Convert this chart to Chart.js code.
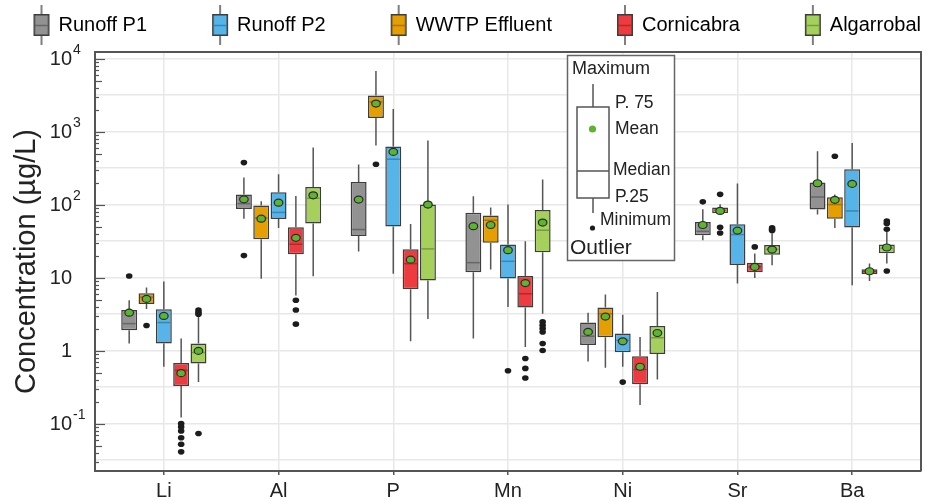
<!DOCTYPE html>
<html>
<head>
<meta charset="utf-8">
<title>Concentration box plots</title>
<script src="https://cdn.jsdelivr.net/npm/chart.js@4.4.1/dist/chart.umd.min.js"></script>
<style>
  body { margin: 0; background: #fff; }
  #chart { display: block; }
</style>
</head>
<body>
<canvas id="chart" width="929" height="501"></canvas>
<script>
const FONT = "'Liberation Sans', Arial, sans-serif";

const elements = ['Li', 'Al', 'P', 'Mn', 'Ni', 'Sr', 'Ba'];

// one row per element: [min, P25, median, P75, max, mean]
const runoffP1 = [
    [1.25, 1.9, 2.34, 3.6, 4.9, 3.3],
    [64, 87, 103, 137, 234, 118],
    [22.7, 37, 45.5, 204, 353, 117],
    [1.46, 11.8, 16, 77, 130, 50.5],
    [0.71, 1.19, 1.57, 2.42, 3.3, 1.8],
    [32.4, 38, 43, 57.8, 86, 52.5],
    [73, 85.5, 127, 200, 537, 196]
];
const runoffP1Outliers = [[10.5], [376, 20], [], [], [], [109], []];

const wwtpEffluent = [
    [3.7, 4.35, 5.4, 6.1, 7.3, 5.1],
    [9.6, 33.5, 65.5, 97, 111, 64],
    [643, 1535, 2542, 3112, 6760, 2420],
    [12.9, 30, 61, 71, 91, 52.5],
    [0.58, 1.52, 3.2, 3.88, 5.85, 2.92],
    [73.6, 76, 83.5, 91, 101, 81.7],
    [47.8, 64, 100, 126, 137, 116]
];
const wwtpEffluentOutliers = [[2.2], [], [357], [], [], [138, 49, 40.8], [459]];

const runoffP2 = [
    [0.6, 1.25, 2.42, 3.68, 8.8, 2.98],
    [47.8, 63.5, 78, 147, 260, 106],
    [11.3, 50, 418, 623, 2040, 526],
    [3.96, 9.7, 16.7, 28.3, 100, 23.7],
    [0.6, 0.95, 1.38, 1.71, 3.1, 1.34],
    [8.3, 14.9, 38.8, 53.7, 194, 44],
    [7.85, 48.4, 81.7, 305, 698, 192]
];
const runoffP2Outliers = [[], [], [], [0.53], [0.37], [], []];

const cornicabra = [
    [0.121, 0.327, 0.537, 0.676, 1.46, 0.49],
    [5.7, 20.9, 28.6, 49, 131, 35],
    [1.34, 6.9, 15.5, 24.4, 54, 17.6],
    [1.12, 3.9, 6, 10.5, 31.4, 8.4],
    [0.18, 0.345, 0.55, 0.835, 1.54, 0.6],
    [9.9, 11.8, 14, 15.9, 21.3, 14],
    [9.0, 11.1, 12.1, 13, 15.6, 12.2]
];
const cornicabraOutliers = [
    [0.1, 0.09, 0.079, 0.064, 0.052, 0.041],
    [4.9, 3.6, 2.3], [], [0.78, 0.57, 0.42], [], [26.3], []
];

const algarrobal = [
    [0.37, 0.664, 0.94, 1.25, 3.0, 0.99],
    [10.4, 55, 122, 174, 604, 134],
    [2.7, 9.1, 24.7, 100, 753, 100],
    [3.2, 22.2, 44.5, 84, 220, 56.7],
    [0.4, 0.9, 1.5, 2.17, 6.35, 1.74],
    [14.7, 20.6, 24.4, 28, 40, 24.2],
    [15.6, 21.5, 25.2, 28.3, 42, 25.8]
];
const algarrobalOutliers = [
    [3.6, 3.35, 3.15, 0.073], [], [], [2.47, 2.22, 2.0, 1.8, 1.25, 1.0],
    [], [48, 46, 44], [59.6, 55, 46, 12.3]
];

const legendOrder = ['Runoff P1', 'Runoff P2', 'WWTP Effluent', 'Cornicabra', 'Algarrobal'];

// tick labels as base^exponent
const yTickValues = [0.1, 1, 10, 100, 1000, 10000];
const yTickLabels = ['10^-1', '1', '10', '10^2', '10^3', '10^4'];
const yGridValues = [0.0316, 0.1, 0.316, 1, 3.16, 10, 31.6, 100, 316, 1000, 3162, 10000];

// plotting order inside each group
const series = [
    { label: 'Runoff P1', stats: runoffP1, outliers: runoffP1Outliers, color: '#929292', medianColor: '#676767' },
    { label: 'WWTP Effluent', stats: wwtpEffluent, outliers: wwtpEffluentOutliers, color: '#e69f00', medianColor: '#a87400' },
    { label: 'Runoff P2', stats: runoffP2, outliers: runoffP2Outliers, color: '#56b4e9', medianColor: '#3a86b3' },
    { label: 'Cornicabra', stats: cornicabra, outliers: cornicabraOutliers, color: '#ee3b3f', medianColor: '#b02a2e' },
    { label: 'Algarrobal', stats: algarrobal, outliers: algarrobalOutliers, color: '#a4d05b', medianColor: '#789c40' }
];

function legendIcon(s) {
    const c = document.createElement('canvas');
    c.width = 18;
    c.height = 40;
    const g = c.getContext('2d');
    g.lineWidth = 1.5;
    g.strokeStyle = '#555';
    g.beginPath();
    g.moveTo(9, 0); g.lineTo(9, 9);
    g.moveTo(9, 31); g.lineTo(9, 40);
    g.stroke();
    g.fillStyle = s.color;
    g.fillRect(1, 9, 16, 22);
    g.strokeStyle = '#3d3d3d';
    g.strokeRect(1.75, 9.75, 14.5, 20.5);
    g.strokeStyle = s.medianColor;
    g.beginPath();
    g.moveTo(2.5, 20.5); g.lineTo(15.5, 20.5);
    g.stroke();
    return c;
}

// legend sits high on one row with wide gaps between items
const legendPlacePlugin = {
    id: 'legendPlace',
    beforeLayout(chart) {
        const lg = chart.legend;
        if (lg && !lg._fitPatched) {
            const fit = lg.fit.bind(lg);
            lg.fit = function () {
                const mw = this.maxWidth;
                this.maxWidth = 1400;
                fit();
                this.maxWidth = mw;
                this.width = mw;
                this.height = 52;
            };
            lg._fitPatched = true;
        }
    },
    afterLayout(chart) {
        const lg = chart.legend;
        const pad = lg.options.labels.padding;
        lg.top = 25 - 10 - pad;
        lg.left = 34 - pad;
        lg.right = lg.left + pad + lg.lineWidths[0] + 1;
        lg.width = lg.right - lg.left;
    }
};

// whiskers, medians, means and outliers on top of the floating bars
const boxPlotPlugin = {
    id: 'boxPlot',
    afterDatasetsDraw(chart) {
        const ctx = chart.ctx;
        const y = chart.scales.y;
        ctx.save();
        series.forEach((s, di) => {
            const meta = chart.getDatasetMeta(di);
            meta.data.forEach((bar, j) => {
                const st = s.stats[j];
                const x = bar.x;
                const half = bar.width / 2;
                ctx.lineWidth = 1.5;
                ctx.strokeStyle = '#555';
                ctx.beginPath();
                ctx.moveTo(x, y.getPixelForValue(st[3]));
                ctx.lineTo(x, y.getPixelForValue(st[4]));
                ctx.moveTo(x, y.getPixelForValue(st[1]));
                ctx.lineTo(x, y.getPixelForValue(st[0]));
                ctx.stroke();

                ctx.strokeStyle = s.medianColor;
                const ym = y.getPixelForValue(st[2]);
                ctx.beginPath();
                ctx.moveTo(x - half + 1.5, ym);
                ctx.lineTo(x + half - 1.5, ym);
                ctx.stroke();

                ctx.fillStyle = '#1c1c1c';
                s.outliers[j].forEach(v => {
                    ctx.beginPath();
                    ctx.ellipse(x, y.getPixelForValue(v), 3.3, 2.8, 0, 0, Math.PI * 2);
                    ctx.fill();
                });

                ctx.beginPath();
                ctx.ellipse(x, y.getPixelForValue(st[5]), 4.3, 3.5, 0, 0, Math.PI * 2);
                ctx.fillStyle = '#5cb531';
                ctx.fill();
                ctx.lineWidth = 1.2;
                ctx.strokeStyle = '#2b2b2b';
                ctx.stroke();
            });
        });
        ctx.restore();
    }
};

// top/right frame, inward minor ticks and the power-of-ten labels
const framePlugin = {
    id: 'frame',
    afterDatasetsDraw(chart) {
        const { ctx, chartArea: a, scales: { y } } = chart;
        ctx.save();
        ctx.strokeStyle = '#555';
        ctx.lineWidth = 2;
        ctx.beginPath();
        ctx.moveTo(a.left, a.top);
        ctx.lineTo(a.right, a.top);
        ctx.lineTo(a.right, a.bottom);
        ctx.stroke();
        ctx.lineWidth = 1.2;
        for (let d = -2; d <= 4; d++) {
            for (let m = 1; m <= 9; m++) {
                const v = m * Math.pow(10, d);
                if (v < y.min || v > y.max) continue;
                const py = Math.round(y.getPixelForValue(v)) + 0.5;
                const len = m === 1 ? 10 : (m === 5 ? 7 : 4);
                ctx.beginPath();
                ctx.moveTo(a.left, py);
                ctx.lineTo(a.left + len, py);
                ctx.stroke();
            }
        }

        ctx.fillStyle = '#222';
        ctx.textBaseline = 'middle';
        const xr = a.left - 23;
        yTickValues.forEach((v, i) => {
            const [base, exp] = yTickLabels[i].split('^');
            const py = y.getPixelForValue(v);
            ctx.font = '20px ' + FONT;
            ctx.textAlign = 'right';
            ctx.fillText(base, xr, py + 1);
            if (exp) {
                ctx.font = '14px ' + FONT;
                ctx.textAlign = 'left';
                ctx.fillText(exp, xr + 1, py - 8);
            }
        });
        ctx.restore();
    }
};

// explanatory key for the box symbols
const keyPlugin = {
    id: 'boxKey',
    afterDraw(chart) {
        const ctx = chart.ctx;
        ctx.save();
        ctx.fillStyle = '#fff';
        ctx.fillRect(567, 55, 108, 206);
        ctx.strokeStyle = '#666';
        ctx.lineWidth = 1.5;
        ctx.strokeRect(567.5, 55.5, 107, 205);

        ctx.strokeStyle = '#555';
        ctx.beginPath();
        ctx.moveTo(593, 84); ctx.lineTo(593, 107);
        ctx.moveTo(593, 198); ctx.lineTo(593, 213);
        ctx.stroke();
        ctx.strokeRect(577, 107, 32, 91);
        ctx.beginPath();
        ctx.moveTo(577, 171); ctx.lineTo(609, 171);
        ctx.stroke();

        ctx.beginPath();
        ctx.arc(592.5, 129, 3.6, 0, Math.PI * 2);
        ctx.fillStyle = '#5cb531';
        ctx.fill();
        ctx.beginPath();
        ctx.arc(592.5, 228, 2.6, 0, Math.PI * 2);
        ctx.fillStyle = '#1c1c1c';
        ctx.fill();

        ctx.fillStyle = '#222';
        ctx.textBaseline = 'middle';
        ctx.textAlign = 'left';
        ctx.font = '18px ' + FONT;
        ctx.fillText('Maximum', 572, 69);
        ctx.font = '17.5px ' + FONT;
        ctx.fillText('P. 75', 615, 103);
        ctx.fillText('Mean', 615, 129);
        ctx.fillText('Median', 613, 170);
        ctx.fillText('P.25', 615, 197);
        ctx.fillText('Minimum', 600, 220);
        ctx.font = '21px ' + FONT;
        ctx.fillText('Outlier', 570, 248);
        ctx.restore();
    }
};

const ctx = document.getElementById('chart').getContext('2d');

new Chart(ctx, {
    type: 'bar',
    data: {
        datasets: series.map(s => ({
            label: s.label,
            data: s.stats.map((st, i) => ({ x: i, y: [st[1], st[3]] })),
            backgroundColor: s.color,
            borderColor: '#3d3d3d',
            borderWidth: 1.5,
            borderSkipped: false,
            categoryPercentage: 0.755,
            barPercentage: 0.92
        }))
    },
    options: {
        responsive: false,
        animation: false,
        devicePixelRatio: 1,
        layout: { padding: { left: 0, right: 8, top: 0, bottom: 0 } },
        plugins: {
            tooltip: { enabled: false },
            legend: {
                position: 'top',
                labels: {
                    usePointStyle: true,
                    boxWidth: 14,
                    padding: 66,
                    color: '#222',
                    font: { size: 20, family: FONT },
                    generateLabels: chart => chart.data.datasets.map((ds, i) => ({
                        text: ds.label,
                        pointStyle: legendIcon(series[i]),
                        datasetIndex: i,
                        hidden: false,
                        lineWidth: 0,
                        fillStyle: series[i].color,
                        strokeStyle: '#3d3d3d'
                    })),
                    sort: (a, b) => legendOrder.indexOf(a.text) - legendOrder.indexOf(b.text)
                }
            }
        },
        scales: {
            x: {
                type: 'linear',
                min: -0.6,
                max: 6.6,
                offset: false,
                afterBuildTicks: scale => { scale.ticks = elements.map((e, i) => ({ value: i })); },
                afterFit: scale => { scale.height = 30; },
                ticks: {
                    autoSkip: false,
                    maxRotation: 0,
                    padding: 4,
                    color: '#222',
                    font: { size: 20, family: FONT },
                    callback: v => elements[v]
                },
                grid: { color: '#e8e8e8', lineWidth: 1.5, offset: false, tickLength: 4, tickColor: '#555', tickWidth: 1.5 },
                border: { color: '#555', width: 2 }
            },
            y: {
                type: 'logarithmic',
                min: 0.0224,
                max: 12300,
                afterBuildTicks: scale => { scale.ticks = yGridValues.map(v => ({ value: v })); },
                afterFit: scale => { scale.width = 95; },
                ticks: {
                    autoSkip: false,
                    padding: 17,
                    font: { size: 20, family: FONT },
                    callback: () => ''
                },
                grid: { color: '#e8e8e8', lineWidth: 1.5, drawTicks: false },
                border: { color: '#555', width: 2 },
                title: {
                    display: true,
                    text: 'Concentration (µg/L)',
                    color: '#222',
                    font: { size: 29, family: FONT },
                    padding: { top: 10, bottom: 0 }
                }
            }
        }
    },
    plugins: [legendPlacePlugin, boxPlotPlugin, framePlugin, keyPlugin]
});
</script>
</body>
</html>
